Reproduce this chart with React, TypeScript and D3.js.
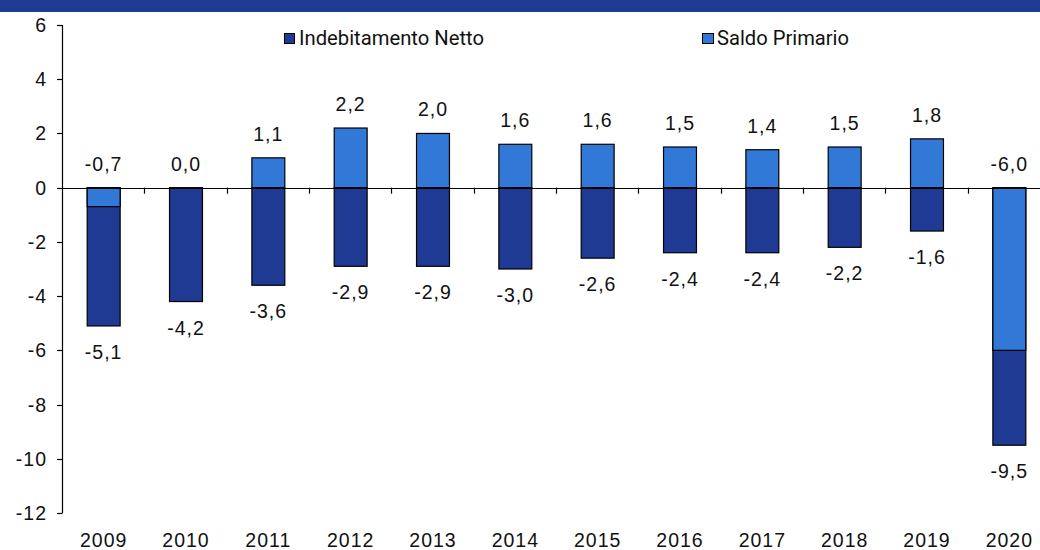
import React from "react";
import * as d3 from "d3";

const years = ["2009","2010","2011","2012","2013","2014","2015","2016","2017","2018","2019","2020"];
const saldoPrimario = [-0.7, 0.0, 1.1, 2.2, 2.0, 1.6, 1.6, 1.5, 1.4, 1.5, 1.8, -6.0];
const indebitamentoNetto = [-5.1, -4.2, -3.6, -2.9, -2.9, -3.0, -2.6, -2.4, -2.4, -2.2, -1.6, -9.5];
const yTicks = [6, 4, 2, 0, -2, -4, -6, -8, -10, -12];
const seriesNames = ["Indebitamento Netto", "Saldo Primario"];

const DARK = "#1F3A93";
const LIGHT = "#3279D7";
const W = 1040, H = 550;
const fmt = (v: number) => v.toFixed(1).replace(".", ",");
const LS = 1;

export default function App() {
  const x = d3.scaleBand<string>().domain(years).range([62, 1050]).paddingInner(0.6).paddingOuter(0.3);
  const step = x.step();
  const y = d3.scaleLinear().domain([-12, 6]).range([513, 25]);
  const bw = x.bandwidth();
  const numFont = "'Liberation Sans', Arial, sans-serif";
  const y0 = y(0);
  const numProps = { fontFamily: numFont, fontSize: 19.5, fill: "#111", letterSpacing: LS };
  return (
    <svg width={W} height={H} style={{ position: "absolute", left: 0, top: 0, background: "#fff" }}>
      <rect x={0} y={0} width={W} height={12} fill={DARK} />
      {/* Legend */}
      <g fontFamily="Roboto, sans-serif" fontSize={19.5} fill="#111">
        <rect x={284.5} y={33.5} width={10} height={10} fill={DARK} stroke="#000" strokeWidth={1} />
        <text x={299} y={45} textLength={185} lengthAdjust="spacingAndGlyphs">{seriesNames[0]}</text>
        <rect x={702.5} y={33.5} width={11} height={10} fill={LIGHT} stroke="#000" strokeWidth={1} />
        <text x={717} y={45} textLength={132} lengthAdjust="spacingAndGlyphs">{seriesNames[1]}</text>
      </g>
      {/* Bars */}
      {years.map((yr, i) => {
        const xc = x(yr)!;
        const ind = indebitamentoNetto[i];
        const sp = saldoPrimario[i];
        return (
          <g key={yr}>
            <rect x={xc + 0.5} y={y(0)} width={bw} height={y(ind) - y(0)} fill={DARK} stroke="#000" strokeWidth={1.2} />
            <rect x={xc + 0.5} y={y(Math.max(0, sp))} width={bw} height={Math.abs(y(sp) - y(0))} fill={LIGHT} stroke="#000" strokeWidth={1.2} />
          </g>
        );
      })}
      {/* Axes */}
      <line x1={62.5} x2={62.5} y1={y(6)} y2={y(-12)} stroke="#000" strokeWidth={1.2} />
      {yTicks.map((t) => (
        <g key={t}>
          <line x1={57} x2={62.5} y1={Math.round(y(t)) + 0.5} y2={Math.round(y(t)) + 0.5} stroke="#000" strokeWidth={1.2} />
          <text x={46 + LS} y={y(t) + 7} textAnchor="end" {...numProps}>{t}</text>
        </g>
      ))}
      <line x1={62} x2={W} y1={Math.round(y0) + 0.5} y2={Math.round(y0) + 0.5} stroke="#000" strokeWidth={1.2} />
      {years.slice(1).map((yr) => (
        <line key={yr} x1={Math.round(x(yr)! - (step - bw) / 2) + 0.5} x2={Math.round(x(yr)! - (step - bw) / 2) + 0.5} y1={y0} y2={y0 + 6} stroke="#000" strokeWidth={1.2} />
      ))}
      {years.map((yr) => (
        <text key={yr} x={x(yr)! + bw / 2 + LS / 2} y={547} textAnchor="middle" {...numProps}>{yr}</text>
      ))}
      {/* Labels */}
      {years.map((yr, i) => {
        const cx = x(yr)! + bw / 2 + LS / 2;
        const sp = saldoPrimario[i];
        const ind = indebitamentoNetto[i];
        return (
          <g key={yr} textAnchor="middle" {...numProps}>
            <text x={cx} y={y(Math.max(0, sp)) - 17}>{fmt(sp)}</text>
            <text x={cx} y={y(ind) + 33}>{fmt(ind)}</text>
          </g>
        );
      })}
    </svg>
  );
}
